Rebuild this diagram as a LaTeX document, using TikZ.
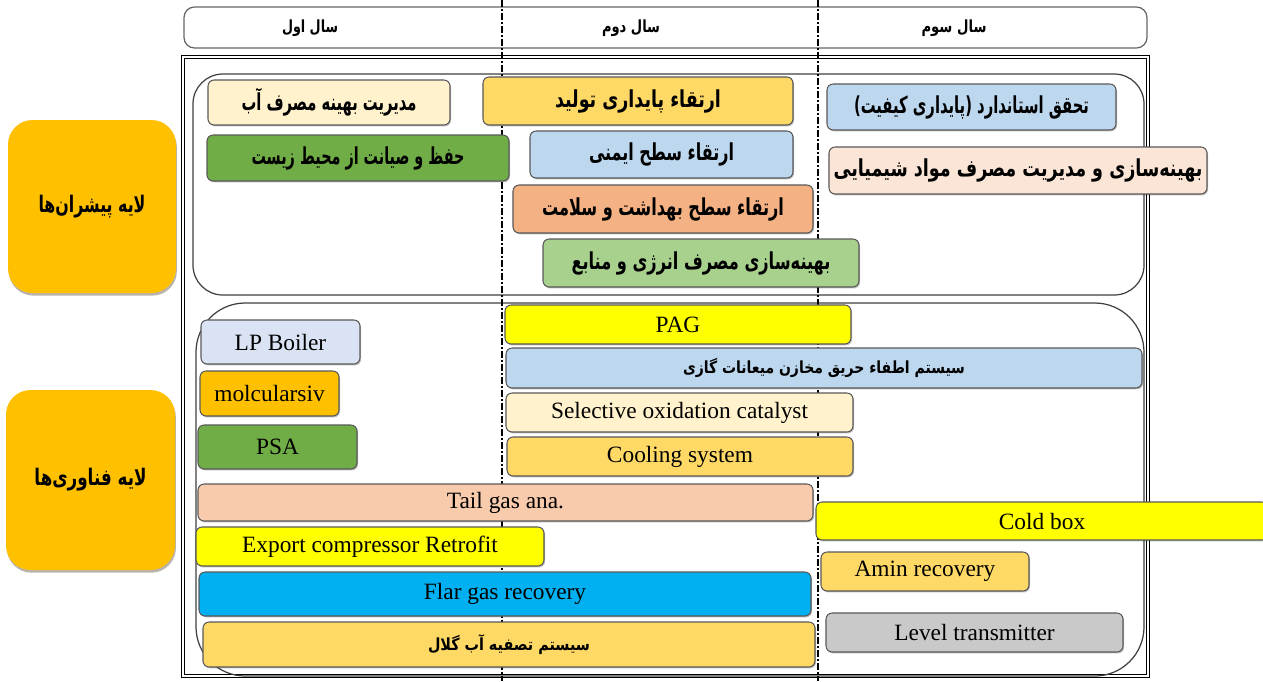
\documentclass[tikz,border=0pt]{standalone}
\usepackage{fontspec}
\usepackage{graphicx}
\setmainfont{Liberation Serif}
\newfontfamily\arfont[Script=Arabic]{DejaVu Sans}
\TeXXeTstate=1
\usetikzlibrary{shadows}
\newdimen\pxu \pxu=0.02cm
\newcommand\ARb[2]{\resizebox{#1\pxu}{\height}{\arfont\bfseries\beginR #2\endR}}
\newcommand\ARn[2]{\resizebox{#1\pxu}{\height}{\arfont\beginR #2\endR}}
\definecolor{cOrange}{HTML}{FFC000}
\definecolor{cCream}{HTML}{FFF2CC}
\definecolor{cGreen}{HTML}{70AD47}
\definecolor{cGold}{HTML}{FFD966}
\definecolor{cLBlue}{HTML}{BDD7EE}
\definecolor{cSalmon}{HTML}{F4B183}
\definecolor{cLGreen}{HTML}{A9D18E}
\definecolor{cPeach}{HTML}{FBE5D6}
\definecolor{cLPB}{HTML}{DAE3F3}
\definecolor{cYellow}{HTML}{FFFF00}
\definecolor{cTail}{HTML}{F8CBAD}
\definecolor{cCyan}{HTML}{00B0F0}
\definecolor{cGray}{HTML}{C9C9C9}
\tikzset{
  bx/.style={draw=black!65, line width=0.6pt, rounded corners=3.5pt, inner sep=0pt,
    align=center, font=\fontsize{13.3}{15}\selectfont,
    drop shadow={shadow xshift=0.6pt, shadow yshift=-0.8pt, opacity=0.25, fill=black}},
  arbig/.style={font=\fontsize{11}{13}\selectfont},
  layerlbl/.style={fill=cOrange, rounded corners=14pt, inner sep=0pt,
    font=\fontsize{13}{15}\selectfont,
    drop shadow={shadow xshift=0.5pt, shadow yshift=-1.5pt, opacity=0.35, fill=black!70!brown}},
  panel/.style={draw=black!75, line width=0.7pt},
  divider/.style={line width=1.1pt, dash pattern=on 4pt off 1.2pt on 1pt off 1.2pt},
  yearlbl/.style={font=\fontsize{9.5}{11}\selectfont, inner sep=0pt},
}
\newcommand\mybox[8][bx]{%
  \node[#1, fill=#7, minimum width={(#5-#3)*0.02cm}, minimum height={(#6-#4)*0.02cm}]
    (#2) at ({(#3+#5)/2},{(#4+#6)/2}) {#8};}
\begin{document}
\begin{tikzpicture}[x=0.02cm, y=-0.02cm]
\useasboundingbox (0,0) rectangle (1263,681);
\fill[white] (0,0) rectangle (1263,681);
% header
\draw[draw=black!60, line width=0.7pt, rounded corners=6pt] (184,7) rectangle (1147,48);
\node[yearlbl] (y1) at (310,28) {\ARb{56}{سال اول}};
\node[yearlbl] (y2) at (631,28) {\ARb{58}{سال دوم}};
\node[yearlbl] (y3) at (954,28) {\ARb{65}{سال سوم}};
% main frame
\draw[line width=0.45pt, double=white, double distance=1.2pt] (183,57) rectangle (1148,676);
% panels
\draw[panel, rounded corners=17pt] (193,74) rectangle (1144,295);
\draw[panel, rounded corners=28pt] (196,303) rectangle (1144,676);
% dividers
\draw[divider] (502,0) -- (502,681);
\draw[divider] (818,0) -- (818,681);
% layer labels
\mybox[layerlbl]{L1}{8}{120}{176}{293}{cOrange}{\ARb{107}{لایه پیشران‌ها}}
\mybox[layerlbl]{L2}{6}{390}{175}{570}{cOrange}{\ARb{112}{لایه فناوری‌ها}}
% upper layer
\begin{scope}[every node/.append style={arbig}]
\mybox{u1}{208}{80}{450}{125}{cCream}{\ARb{175}{مدیریت بهینه مصرف آب}}
\mybox{u2}{207}{135}{509}{181}{cGreen}{\ARb{213}{حفظ و صیانت از محیط زیست}}
\mybox{u3}{483}{77}{793}{125}{cGold}{\ARb{166}{ارتقاء پایداری تولید}}
\mybox{u4}{530}{131}{793}{178}{cLBlue}{\ARb{145}{ارتقاء سطح ایمنی}}
\mybox{u5}{513}{185}{813}{233}{cSalmon}{\ARb{242}{ارتقاء سطح بهداشت و سلامت}}
\mybox{u6}{543}{239}{859}{287}{cLGreen}{\ARb{259}{بهینه‌سازی مصرف انرژی و منابع}}
\mybox{u7}{827}{84}{1116}{130}{cLBlue}{\ARb{235}{تحقق استاندارد (پایداری کیفیت)}}
\mybox{u8}{829}{147}{1207}{194}{cPeach}{\ARb{369}{بهینه‌سازی و مدیریت مصرف مواد شیمیایی}}
\end{scope}
% lower layer
\mybox{t1}{201}{320}{360}{364}{cLPB}{LP Boiler}
\mybox{t2}{200}{371}{339}{416}{cOrange}{molcularsiv}
\mybox{t3}{198}{425}{357}{469}{cGreen}{PSA}
\mybox{t4}{505}{305}{851}{344}{cYellow}{PAG}
\mybox{t5}{506}{348}{1142}{388}{cLBlue}{\fontsize{9.5}{11}\selectfont\ARb{282}{سیستم اطفاء حریق مخازن میعانات گازی}}
\mybox{t6}{506}{393}{853}{432}{cCream}{Selective oxidation catalyst}
\mybox{t7}{507}{437}{853}{476}{cGold}{Cooling system}
\mybox{t8}{198}{484}{813}{521}{cTail}{Tail gas ana.}
\mybox{t9}{816}{502}{1268}{540}{cYellow}{Cold box}
\mybox{t10}{196}{527}{544}{566}{cYellow}{Export compressor Retrofit}
\mybox{t11}{199}{572}{811}{616}{cCyan}{Flar gas recovery}
\mybox{t12}{203}{622}{815}{667}{cGold}{\fontsize{9.5}{11}\selectfont\ARb{162}{سیستم تصفیه آب گلال}}
\mybox{t13}{821}{552}{1029}{591}{cGold}{Amin recovery}
\mybox{t14}{826}{613}{1123}{652}{cGray}{Level transmitter}
\end{tikzpicture}
\end{document}
